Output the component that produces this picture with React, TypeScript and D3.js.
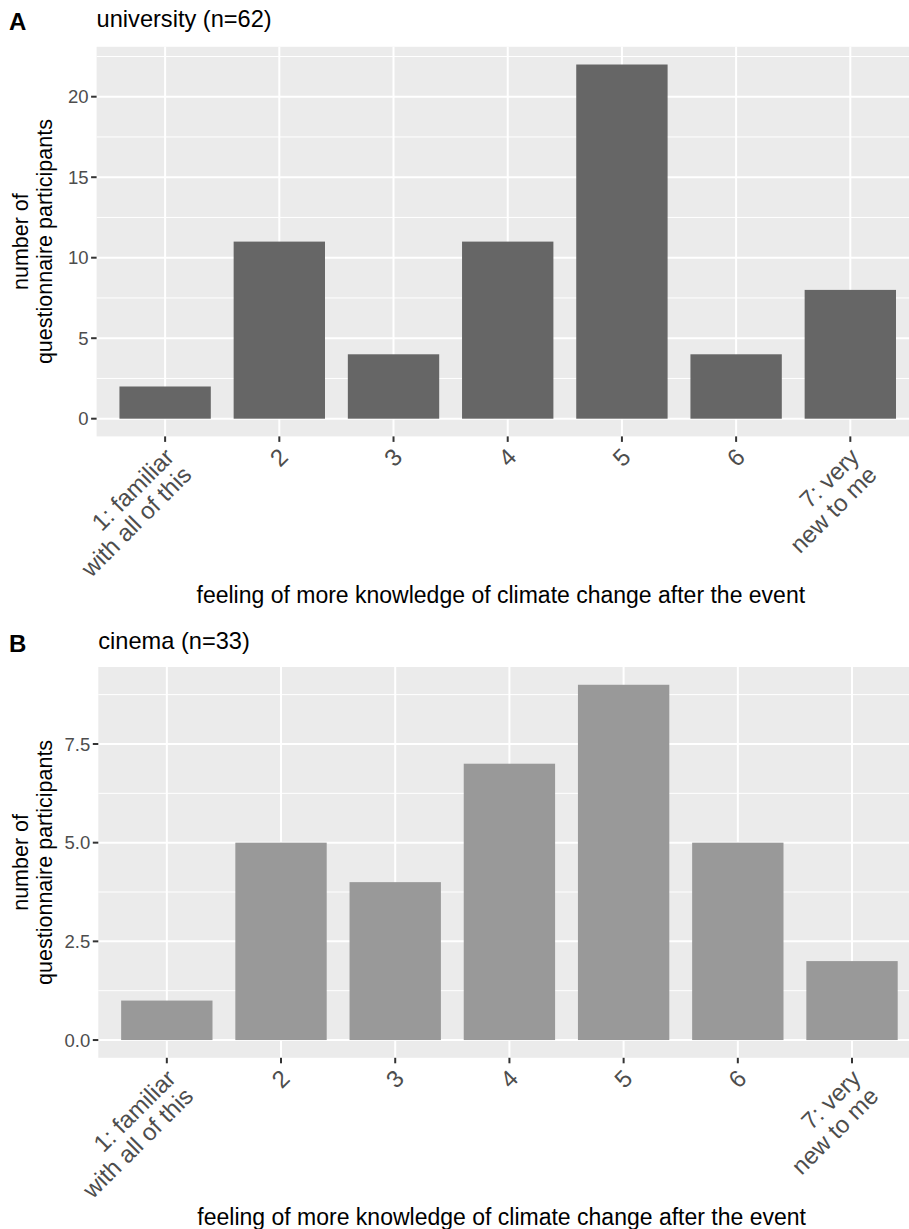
import React from "react";
import * as d3 from "d3";

const categories = [
  "1: familiar\nwith all of this",
  "2",
  "3",
  "4",
  "5",
  "6",
  "7: very\nnew to me",
];
const universityCounts = [2, 11, 4, 11, 22, 4, 8];
const cinemaCounts = [1, 5, 4, 7, 9, 5, 2];
const universityTicks = [0, 5, 10, 15, 20];
const cinemaTicks = [0, 2.5, 5, 7.5];
const xTitle = "feeling of more knowledge of climate change after the event";
const yTitle = ["number of", "questionnaire participants"];

const FONT = "'Liberation Sans', Arial, Helvetica, sans-serif";

type PanelProps = {
  tag: string;
  title: string;
  values: number[];
  ticks: number[];
  tickFmt: (v: number) => string;
  fill: string;
  left: number;
  top: number;
  bottom: number;
  offsetY: number;
};

function Panel(p: PanelProps) {
  const step = 114.2;
  const width = step * 7.2;
  const x = d3
    .scalePoint<string>()
    .domain(categories)
    .range([p.left, p.left + width])
    .padding(0.6);
  const maxV = d3.max(p.values) as number;
  const pad = maxV * 0.05;
  const y = d3
    .scaleLinear()
    .domain([-pad, maxV + pad])
    .range([p.bottom, p.top]);
  const tickStep = p.ticks[1] - p.ticks[0];
  const minor: number[] = [];
  for (let i = 0; i < p.ticks.length + 1; i++) {
    const v = p.ticks[0] + tickStep * (i + 0.5);
    if (y(v) >= p.top) minor.push(v);
  }
  const bw = step * 0.8;
  const right = p.left + width;
  const midY = (p.top + p.bottom) / 2;
  const tickLen = 5.5;
  const yTickFont = 18.5;
  const xTickFont = 24;
  return (
    <g>
      <text x={9} y={p.offsetY + 30} fontSize={24} fontWeight="bold" fontFamily={FONT} fill="#000">
        {p.tag}
      </text>
      <text x={p.left} y={p.offsetY + 27} fontSize={23.6} fontFamily={FONT} fill="#000">
        {p.title}
      </text>
      <rect x={p.left} y={p.top} width={width} height={p.bottom - p.top} fill="#EBEBEB" />
      {minor.map((v) => (
        <line key={"mn" + v} x1={p.left} x2={right} y1={y(v)} y2={y(v)} stroke="#fff" strokeWidth={1} />
      ))}
      {p.ticks.map((v) => (
        <line key={"mj" + v} x1={p.left} x2={right} y1={y(v)} y2={y(v)} stroke="#fff" strokeWidth={2} />
      ))}
      {categories.map((c) => (
        <line key={"vx" + c} x1={x(c)} x2={x(c)} y1={p.top} y2={p.bottom} stroke="#fff" strokeWidth={2} />
      ))}
      {categories.map((c, i) => (
        <rect
          key={"b" + c}
          x={(x(c) as number) - bw / 2}
          width={bw}
          y={y(p.values[i])}
          height={y(0) - y(p.values[i])}
          fill={p.fill}
        />
      ))}
      {p.ticks.map((v) => (
        <g key={"yt" + v}>
          <line x1={p.left - tickLen} x2={p.left} y1={y(v)} y2={y(v)} stroke="#333" strokeWidth={2} />
          <text
            x={p.left - tickLen - 2.5}
            y={y(v)}
            dy="0.36em"
            textAnchor="end"
            fontSize={yTickFont}
            fontFamily={FONT}
            fill="#4D4D4D"
          >
            {p.tickFmt(v)}
          </text>
        </g>
      ))}
      {categories.map((c) => {
        const cx = x(c) as number;
        const lines = c.split("\n");
        const ay = p.bottom + 10;
        return (
          <g key={"xt" + c}>
            <line x1={cx} x2={cx} y1={p.bottom} y2={p.bottom + tickLen} stroke="#333" strokeWidth={2} />
            <g transform={`translate(${cx - 2},${ay}) rotate(-45)`}>
              {lines.map((l, li) => (
                <text
                  key={li}
                  x={0}
                  y={li * 25}
                  dy="0.72em"
                  textAnchor="end"
                  fontSize={xTickFont}
                  fontFamily={FONT}
                  fill="#4D4D4D"
                >
                  {l}
                </text>
              ))}
            </g>
          </g>
        );
      })}
      <g transform={`translate(0,${midY}) rotate(-90)`}>
        {yTitle.map((l, li) => (
          <text key={li} x={0} y={28 + li * 23.5} textAnchor="middle" fontSize={21.5} fontFamily={FONT} fill="#000">
            {l}
          </text>
        ))}
      </g>
      <text
        x={(p.left + 909) / 2 - 2}
        y={p.bottom + 167}
        textAnchor="middle"
        fontSize={23}
        fontFamily={FONT}
        fill="#000"
      >
        {xTitle}
      </text>
    </g>
  );
}

export default function App() {
  return (
    <svg
      width={909}
      height={1229}
      style={{ position: "absolute", left: 0, top: 0, background: "#fff" }}
    >
      <rect width={909} height={1229} fill="#fff" />
      <Panel
        tag="A"
        title="university (n=62)"
        values={universityCounts}
        ticks={universityTicks}
        tickFmt={(v) => d3.format("d")(v)}
        fill="#666666"
        left={96.6}
        top={46.8}
        bottom={436.4}
        offsetY={0}
      />
      <Panel
        tag="B"
        title="cinema (n=33)"
        values={cinemaCounts}
        ticks={cinemaTicks}
        tickFmt={(v) => d3.format(".1f")(v)}
        fill="#999999"
        left={98.3}
        top={667}
        bottom={1057.8}
        offsetY={622}
      />
    </svg>
  );
}
